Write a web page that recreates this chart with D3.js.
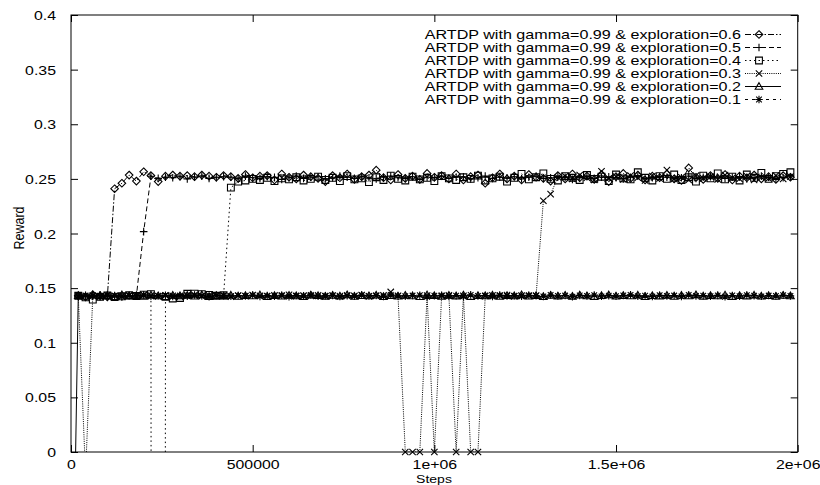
<!DOCTYPE html>
<html><head><meta charset="utf-8">
<script src="https://cdn.jsdelivr.net/npm/d3@7"></script>
<style>
body{margin:0;background:#fff}
svg{display:block}
text{font-family:"Liberation Sans",Arial,Helvetica,sans-serif;fill:#000}
</style>
</head><body>
<svg id="chart" width="820" height="485"></svg>
<script>
// ---------------- DATA ----------------
// sampling grid of the logged runs (one sample every 20000 steps)
const steps = d3.range(0, 2000000, 20000);

const seriesLabels = [
  "ARTDP with gamma=0.99 & exploration=0.6",
  "ARTDP with gamma=0.99 & exploration=0.5",
  "ARTDP with gamma=0.99 & exploration=0.4",
  "ARTDP with gamma=0.99 & exploration=0.3",
  "ARTDP with gamma=0.99 & exploration=0.2",
  "ARTDP with gamma=0.99 & exploration=0.1"
];

const expl06 = [null,
  0.143,0.142,0.144,0.143,0.142,
  0.241,0.246,0.2535,0.248,0.2565,0.253,0.2475,0.2525,0.2535,
  0.2525,0.2530,0.2520,0.2535,0.2525,0.2515,0.2530,0.2520,0.2505,0.2540,
  0.2510,0.2525,0.2530,0.2490,0.2545,0.2515,0.2500,0.2535,0.2520,0.2505,
  0.2475,0.2530,0.2510,0.2545,0.2495,0.2520,0.2535,0.2580,0.2510,0.2490,
  0.2540,0.2505,0.2525,0.2495,0.2550,0.2515,0.2530,0.2500,0.2545,0.2490,
  0.2520,0.2535,0.2460,0.2510,0.2545,0.2500,0.2525,0.2490,0.2540,0.2515,
  0.2505,0.2480,0.2530,0.2500,0.2545,0.2510,0.2525,0.2495,0.2540,0.2475,
  0.2520,0.2550,0.2505,0.2535,0.2490,0.2525,0.2510,0.2545,0.2500,0.2485,
  0.2600,0.2515,0.2495,0.2530,0.2505,0.2540,0.2490,0.2525,0.2510,0.2535,
  0.2500,0.2520,0.2495,0.2530,0.2515];

const expl05 = [null,
  0.143,0.142,0.143,0.144,0.142,0.143,0.142,0.143,0.143,
  0.2017,0.2524,
  0.2505,0.2515,0.2510,0.2520,0.2500,0.2515,0.2525,0.2505,0.2510,0.2520,
  0.2515,0.2500,0.2525,0.2510,0.2505,0.2520,0.2515,0.2495,0.2510,0.2525,
  0.2505,0.2515,0.2520,0.2500,0.2510,0.2525,0.2515,0.2505,0.2520,0.2510,
  0.2500,0.2515,0.2525,0.2510,0.2505,0.2520,0.2495,0.2515,0.2510,0.2525,
  0.2505,0.2515,0.2520,0.2500,0.2510,0.2525,0.2505,0.2515,0.2510,0.2520,
  0.2500,0.2515,0.2525,0.2505,0.2510,0.2520,0.2515,0.2495,0.2510,0.2525,
  0.2505,0.2515,0.2520,0.2510,0.2500,0.2515,0.2525,0.2505,0.2510,0.2520,
  0.2515,0.2500,0.2510,0.2525,0.2505,0.2515,0.2520,0.2510,0.2505,0.2515,
  0.2520,0.2500,0.2510,0.2525,0.2515,0.2505,0.2510,0.2520];

const expl04 = [null,
  0.1430,0.1415,0.1395,0.1420,0.1432,0.1418,0.1425,0.1435,0.1428,0.1440,
  0.1445,-8,0.1420,
  0.1405,0.1410,0.1448,0.1450,0.1445,0.1438,0.1430,0.1435,
  0.242,
  0.2475,0.2485,0.2500,0.2490,0.2510,0.2480,0.2505,0.2495,0.2515,0.2485,
  0.2500,0.2520,0.2490,0.2510,0.2480,0.2525,0.2495,0.2505,0.2470,0.2515,
  0.2490,0.2530,0.2500,0.2485,0.2520,0.2495,0.2510,0.2480,0.2525,0.2505,
  0.2490,0.2515,0.2500,0.2530,0.2485,0.2505,0.2520,0.2475,0.2510,0.2545,
  0.2495,0.2515,0.2550,0.2500,0.2485,0.2525,0.2510,0.2490,0.2535,0.2500,
  0.2520,0.2480,0.2540,0.2505,0.2495,0.2560,0.2510,0.2485,0.2525,0.2500,
  0.2540,0.2490,0.2515,0.2475,0.2530,0.2505,0.2550,0.2495,0.2520,0.2485,
  0.2540,0.2510,0.2555,0.2500,0.2525,0.2545,0.2560];

const expl03 = [null,
  0.1430,-0.02,
  0.1432,0.1427,0.1435,0.1429,0.1424,0.1433,0.1428,0.1436,0.1431,0.1425,
  0.1434,0.1429,0.1422,0.1437,0.1430,0.1426,0.1433,0.1428,0.1435,0.1423,
  0.1431,0.1427,0.1436,0.1430,0.1425,0.1434,0.1429,0.1438,0.1426,0.1432,
  0.1428,0.1435,0.1424,0.1431,0.1427,0.1433,0.1429,0.1436,0.1425,0.1430,
  0.1434,0.1465,0.1430,
  0,0,0,0.1431,0,0.1428,0.1433,0,0.1430,0,0,
  0.1427,0.1434,0.1429,0.1436,0.1425,0.1432,0.1428,0.1431,
  0.230,0.236,0.2515,
  0.2525,0.2500,0.2535,0.2510,0.2490,0.2570,0.2505,0.2520,0.2495,0.2530,
  0.2510,0.2485,0.2525,0.2505,0.2580,0.2500,0.2515,0.2490,0.2530,0.2505,
  0.2520,0.2495,0.2535,0.2510,0.2500,0.2525,0.2490,0.2515,0.2505,0.2530,
  0.2500,0.2520];

const expl02 = [-0.25,
  0.1430,0.1425,0.1435,0.1428,0.1432,0.1422,0.1438,0.1427,0.1431,0.1424,
  0.1436,0.1429,0.1421,0.1434,0.1428,0.1433,0.1426,0.1439,0.1423,0.1430,
  0.1427,0.1435,0.1424,0.1432,0.1429,0.1437,0.1422,0.1431,0.1426,0.1434,
  0.1428,0.1423,0.1436,0.1430,0.1425,0.1433,0.1427,0.1438,0.1424,0.1431,
  0.1429,0.1435,0.1422,0.1432,0.1426,0.1434,0.1428,0.1421,0.1437,0.1430,
  0.1425,0.1433,0.1427,0.1436,0.1423,0.1431,0.1429,0.1435,0.1424,0.1432,
  0.1428,0.1438,0.1426,0.1430,0.1422,0.1434,0.1427,0.1433,0.1425,0.1436,
  0.1429,0.1423,0.1431,0.1437,0.1426,0.1432,0.1428,0.1435,0.1421,0.1430,
  0.1427,0.1434,0.1424,0.1433,0.1429,0.1438,0.1425,0.1431,0.1428,0.1436,
  0.1423,0.1432,0.1427,0.1435,0.1426,0.1430,0.1424,0.1433,0.1429];

const expl01 = [null,
  0.1426,0.1434,0.1429,0.1421,0.1436,0.1431,0.1424,0.1433,0.1428,0.1438,
  0.1425,0.1430,0.1435,0.1423,0.1432,0.1427,0.1437,0.1429,0.1422,0.1434,
  0.1430,0.1426,0.1433,0.1428,0.1436,0.1424,0.1431,0.1427,0.1435,0.1422,
  0.1432,0.1429,0.1438,0.1425,0.1430,0.1434,0.1423,0.1431,0.1427,0.1436,
  0.1428,0.1433,0.1424,0.1437,0.1429,0.1426,0.1432,0.1435,0.1421,0.1430,
  0.1434,0.1427,0.1431,0.1425,0.1438,0.1429,0.1433,0.1423,0.1436,0.1428,
  0.1431,0.1426,0.1435,0.1430,0.1424,0.1437,0.1428,0.1432,0.1422,0.1434,
  0.1429,0.1436,0.1425,0.1431,0.1427,0.1433,0.1438,0.1426,0.1430,0.1423,
  0.1435,0.1428,0.1432,0.1424,0.1437,0.1429,0.1431,0.1426,0.1434,0.1421,
  0.1433,0.1427,0.1436,0.1430,0.1425,0.1432,0.1428,0.1435,0.1429];

const xTickValues = [0, 500000, 1000000, 1500000, 2000000];
const xTickLabels = ["0", "500000", "1e+06", "1.5e+06", "2e+06"];
const yTickValues = [0, 0.05, 0.1, 0.15, 0.2, 0.25, 0.3, 0.35, 0.4];
const yTickLabels = ["0", "0.05", "0.1", "0.15", "0.2", "0.25", "0.3", "0.35", "0.4"];
const xTitle = "Steps";
const yTitle = "Reward";

// ---------------- STYLE ----------------
const FONT = "Liberation Sans, Arial, Helvetica, sans-serif";
const FS = 13;
const SX = 1.22; // horizontal stretch of the original raster
const L = 71, R = 797.7, T = 15, B = 452;

const styles = [
  {dash: "6,2,1.5,2", marker: "diamond"},
  {dash: "5,3", marker: "plus"},
  {dash: "1.5,3", marker: "square"},
  {dash: "1,1.2", marker: "cross"},
  {dash: null, marker: "triangle"},
  {dash: "3,4", marker: "star"}
];
const markerPaths = {
  diamond: "M0,-3.8L3.8,0L0,3.8L-3.8,0Z",
  plus: "M-3.8,0H3.8M0,-3.8V3.8",
  square: "M-3.4,-3.4H3.4V3.4H-3.4Z",
  cross: "M-3.2,-3.2L3.2,3.2M-3.2,3.2L3.2,-3.2",
  triangle: "M0,-3.8L3.8,2.8H-3.8Z",
  star: "M-3.8,0H3.8M0,-3.8V3.8M-2.8,-2.8L2.8,2.8M-2.8,2.8L2.8,-2.8"
};

const seriesValues = [expl06, expl05, expl04, expl03, expl02, expl01];
const series = seriesValues.map((vals, i) => ({
  label: seriesLabels[i],
  style: styles[i],
  points: steps.map((s, j) => [s, vals[j]])
}));

// ---------------- CHART ----------------
const svg = d3.select("#chart");
const x = d3.scaleLinear().domain([0, 2000000]).range([L, R]);
const y = d3.scaleLinear().domain([0, 0.4]).range([B, T]);

svg.append("defs").append("clipPath").attr("id", "plotclip")
  .append("rect").attr("x", L).attr("y", T).attr("width", R - L).attr("height", B - T);

function styleAxis(g) {
  g.attr("font-size", FS).attr("font-family", FONT);
  g.select(".domain").remove();
  g.selectAll(".tick line").attr("stroke", "#000").attr("stroke-width", 1);
}

// bottom axis
const gxB = svg.append("g").attr("transform", `translate(0,${B})`)
  .call(d3.axisBottom(x).tickValues(xTickValues).tickFormat((d, i) => xTickLabels[i])
    .tickSizeInner(-7).tickSizeOuter(0).tickPadding(0));
styleAxis(gxB);
gxB.selectAll(".tick text").attr("y", 0).attr("dy", 0)
  .attr("transform", `translate(0,17) scale(${SX},1)`).attr("fill", "#000");

// left axis
const gyL = svg.append("g").attr("transform", `translate(${L},0)`)
  .call(d3.axisLeft(y).tickValues(yTickValues).tickFormat((d, i) => yTickLabels[i])
    .tickSizeInner(-7).tickSizeOuter(0).tickPadding(0));
styleAxis(gyL);
gyL.selectAll(".tick text").attr("x", 0).attr("dy", "0.35em")
  .attr("transform", `translate(-15,0) scale(${SX},1)`).attr("fill", "#000");

// mirrored ticks
const gxT = svg.append("g").attr("transform", `translate(0,${T})`)
  .call(d3.axisTop(x).tickValues(xTickValues).tickFormat("").tickSizeInner(-7).tickSizeOuter(0));
styleAxis(gxT);
const gyR = svg.append("g").attr("transform", `translate(${R},0)`)
  .call(d3.axisRight(y).tickValues(yTickValues).tickFormat("").tickSizeInner(-7).tickSizeOuter(0));
styleAxis(gyR);

// border
svg.append("rect").attr("x", L).attr("y", T).attr("width", R - L).attr("height", B - T)
  .attr("fill", "none").attr("stroke", "#000").attr("stroke-width", 1);

// axis titles
svg.append("text").attr("transform", `translate(434,482.5) scale(${SX},1)`)
  .attr("text-anchor", "middle").attr("font-size", 11.5).attr("font-family", FONT).text(xTitle);
svg.append("text").attr("transform", `translate(24,228) scale(${SX},1) rotate(-90)`)
  .attr("text-anchor", "middle").attr("font-size", 12.5).attr("font-family", FONT).text(yTitle);

// lines
const line = d3.line().defined(d => d[1] != null).x(d => x(d[0])).y(d => y(d[1]));
const plot = svg.append("g").attr("clip-path", "url(#plotclip)");
series.forEach(s => {
  plot.append("path").datum(s.points)
    .attr("d", line).attr("fill", "none").attr("stroke", "#000").attr("stroke-width", 1)
    .attr("stroke-dasharray", s.style.dash);
});
// markers
const mk = svg.append("g");
series.forEach(s => {
  mk.append("g").selectAll("path")
    .data(s.points.filter(d => d[1] != null && d[1] >= 0 && d[1] <= 0.4))
    .join("path")
    .attr("transform", d => `translate(${x(d[0])},${y(d[1])})`)
    .attr("d", markerPaths[s.style.marker])
    .attr("fill", "none").attr("stroke", "#000").attr("stroke-width", 1.1);
});

// legend
const lg = svg.append("g").attr("font-size", FS).attr("font-family", FONT);
series.forEach((s, i) => {
  const yy = 34.5 + 13 * i;
  lg.append("text").attr("transform", `translate(741,${yy}) scale(1.24,1)`)
    .attr("text-anchor", "end").attr("dy", "0.35em").text(s.label);
  lg.append("line").attr("x1", 745).attr("x2", 781).attr("y1", yy).attr("y2", yy)
    .attr("stroke", "#000").attr("stroke-width", 1).attr("stroke-dasharray", s.style.dash);
  lg.append("path").attr("transform", `translate(759,${yy})`)
    .attr("d", markerPaths[s.style.marker]).attr("fill", "none").attr("stroke", "#000").attr("stroke-width", 1.1);
});
</script>
</body></html>
